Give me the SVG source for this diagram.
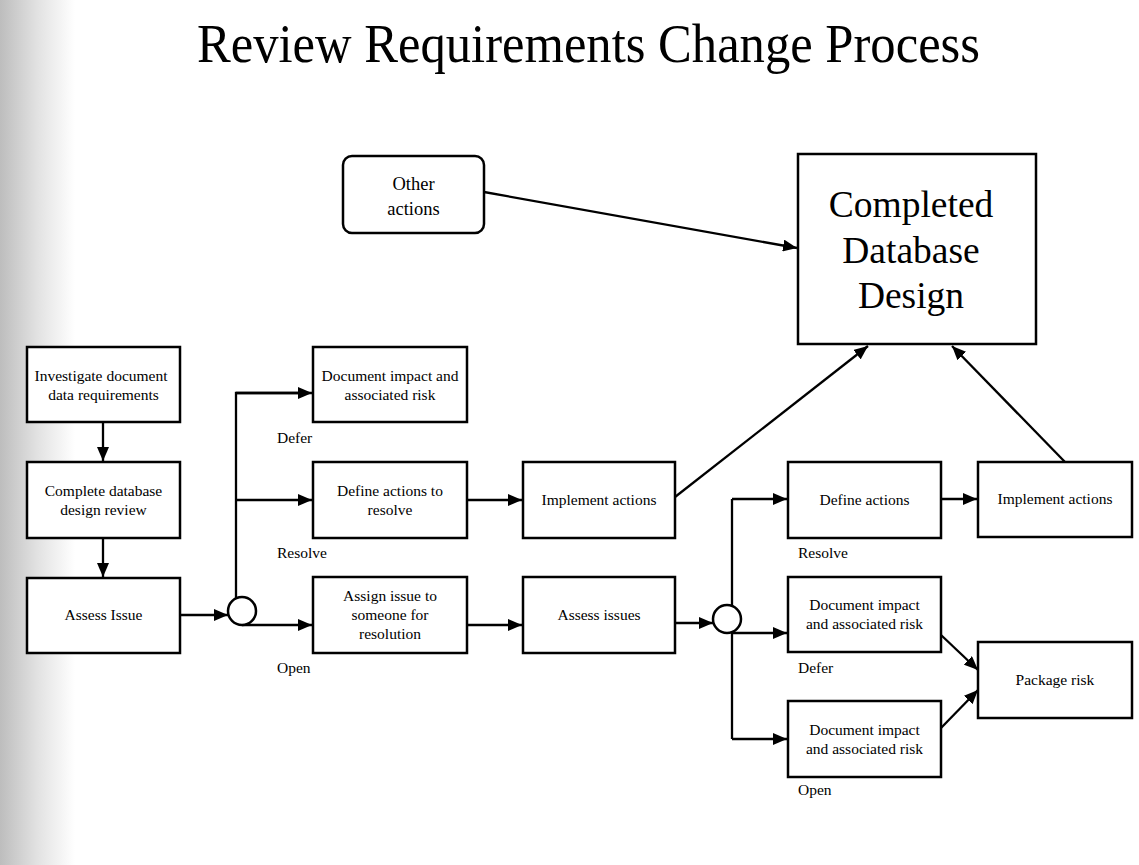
<svg xmlns="http://www.w3.org/2000/svg" width="1139" height="865" viewBox="0 0 1139 865">
<defs>
<linearGradient id="edge" x1="0" y1="0" x2="1" y2="0">
<stop offset="0" stop-color="#bdbdbd"/>
<stop offset="0.5" stop-color="#e2e2e2"/>
<stop offset="1" stop-color="#ffffff"/>
</linearGradient>
<marker id="arr" viewBox="0 0 14 12" refX="14" refY="6" markerWidth="14" markerHeight="12" markerUnits="userSpaceOnUse" orient="auto">
<path d="M0,0 L14,6 L0,12 z" fill="#000"/>
</marker>
<style>
.box{fill:#fff;stroke:#000;stroke-width:2.5}
.t{font-family:"Liberation Serif","Times New Roman",serif;font-size:15.5px;fill:#000;text-anchor:middle}
.lbl{font-family:"Liberation Serif","Times New Roman",serif;font-size:15.5px;fill:#000}
.c{fill:none;stroke:#000;stroke-width:2.3}
.a{fill:none;stroke:#000;stroke-width:2.3;marker-end:url(#arr)}
</style>
</defs>
<rect x="0" y="0" width="1139" height="865" fill="#fff"/>
<rect x="0" y="0" width="75" height="865" fill="url(#edge)"/>
<text x="197" y="62" font-family="'Liberation Serif','Times New Roman',serif" font-size="54" textLength="783" lengthAdjust="spacingAndGlyphs" fill="#000">Review Requirements Change Process</text>

<g id="connectors">
<line class="a" x1="484" y1="192" x2="797" y2="248"/>
<line class="a" x1="675" y1="497" x2="868" y2="346"/>
<line class="a" x1="1065" y1="462" x2="952" y2="346"/>
<line class="a" x1="103" y1="422" x2="103" y2="461"/>
<line class="a" x1="103" y1="538" x2="103" y2="577"/>
<line class="a" x1="180" y1="615" x2="228" y2="615"/>
<polyline class="c" points="236,599 236,393 300,393"/>
<line class="a" x1="236" y1="393" x2="312" y2="393"/>
<line class="a" x1="236" y1="500" x2="312" y2="500"/>
<line class="a" x1="242" y1="625" x2="312" y2="625"/>
<line class="a" x1="467" y1="500" x2="522" y2="500"/>
<line class="a" x1="467" y1="625" x2="522" y2="625"/>
<line class="a" x1="675" y1="623" x2="713" y2="623"/>
<line class="c" x1="732" y1="499" x2="732" y2="739"/>
<line class="a" x1="732" y1="499" x2="787" y2="499"/>
<line class="a" x1="732" y1="633" x2="787" y2="633"/>
<line class="a" x1="732" y1="739" x2="787" y2="739"/>
<line class="a" x1="941" y1="499" x2="977" y2="499"/>
<line class="a" x1="941" y1="635" x2="978" y2="670"/>
<line class="a" x1="941" y1="728" x2="978" y2="690"/>
</g>

<g id="circle1"><circle cx="242" cy="611" r="14" fill="#fff" stroke="#000" stroke-width="2.5"/></g>
<g id="circle2"><circle cx="727" cy="619" r="14" fill="#fff" stroke="#000" stroke-width="2.5"/></g>

<g id="other-actions">
<rect class="box" x="343" y="156" width="141" height="77" rx="9"/>
<text class="t" x="413.5" y="190" style="font-size:18.5px">Other</text>
<text class="t" x="413.5" y="215" style="font-size:18.5px">actions</text>
</g>

<g id="completed-design">
<rect class="box" x="798" y="154" width="238" height="190"/>
<text class="t" x="911" y="217" style="font-size:37.5px">Completed</text>
<text class="t" x="911" y="263" style="font-size:37.5px">Database</text>
<text class="t" x="911" y="308" style="font-size:37.5px">Design</text>
</g>

<g id="investigate">
<rect class="box" x="27" y="347" width="153" height="75"/>
<text class="t" x="101" y="381">Investigate  document</text>
<text class="t" x="103.5" y="400">data requirements</text>
</g>

<g id="complete-review">
<rect class="box" x="27" y="462" width="153" height="76"/>
<text class="t" x="103.5" y="496">Complete database</text>
<text class="t" x="103.5" y="515">design review</text>
</g>

<g id="assess-issue">
<rect class="box" x="27" y="578" width="153" height="75"/>
<text class="t" x="103.5" y="620">Assess Issue</text>
</g>

<g id="doc-impact-1">
<rect class="box" x="313" y="347" width="154" height="75"/>
<text class="t" x="390" y="381">Document impact and</text>
<text class="t" x="390" y="400">associated risk</text>
</g>

<g id="define-resolve">
<rect class="box" x="313" y="462" width="154" height="76"/>
<text class="t" x="390" y="496">Define actions to</text>
<text class="t" x="390" y="515">resolve</text>
</g>

<g id="assign-issue">
<rect class="box" x="313" y="577" width="154" height="76"/>
<text class="t" x="390" y="601">Assign issue to</text>
<text class="t" x="390" y="620">someone for</text>
<text class="t" x="390" y="639">resolution</text>
</g>

<g id="implement-1">
<rect class="box" x="523" y="462" width="152" height="76"/>
<text class="t" x="599" y="505">Implement actions</text>
</g>

<g id="assess-issues">
<rect class="box" x="523" y="577" width="152" height="76"/>
<text class="t" x="599" y="620">Assess issues</text>
</g>

<g id="define-actions">
<rect class="box" x="788" y="462" width="153" height="76"/>
<text class="t" x="864.5" y="505">Define actions</text>
</g>

<g id="implement-2">
<rect class="box" x="978" y="462" width="154" height="75"/>
<text class="t" x="1055" y="504">Implement actions</text>
</g>

<g id="doc-impact-2">
<rect class="box" x="788" y="577" width="153" height="75"/>
<text class="t" x="864.5" y="610">Document impact</text>
<text class="t" x="864.5" y="629">and associated risk</text>
</g>

<g id="doc-impact-3">
<rect class="box" x="788" y="701" width="153" height="76"/>
<text class="t" x="864.5" y="735">Document impact</text>
<text class="t" x="864.5" y="754">and associated risk</text>
</g>

<g id="package-risk">
<rect class="box" x="978" y="642" width="154" height="76"/>
<text class="t" x="1055" y="685">Package risk</text>
</g>

<g id="labels">
<text class="lbl" x="277" y="443">Defer</text>
<text class="lbl" x="277" y="558">Resolve</text>
<text class="lbl" x="277" y="673">Open</text>
<text class="lbl" x="798" y="558">Resolve</text>
<text class="lbl" x="798" y="673">Defer</text>
<text class="lbl" x="798" y="795">Open</text>
</g>
</svg>
